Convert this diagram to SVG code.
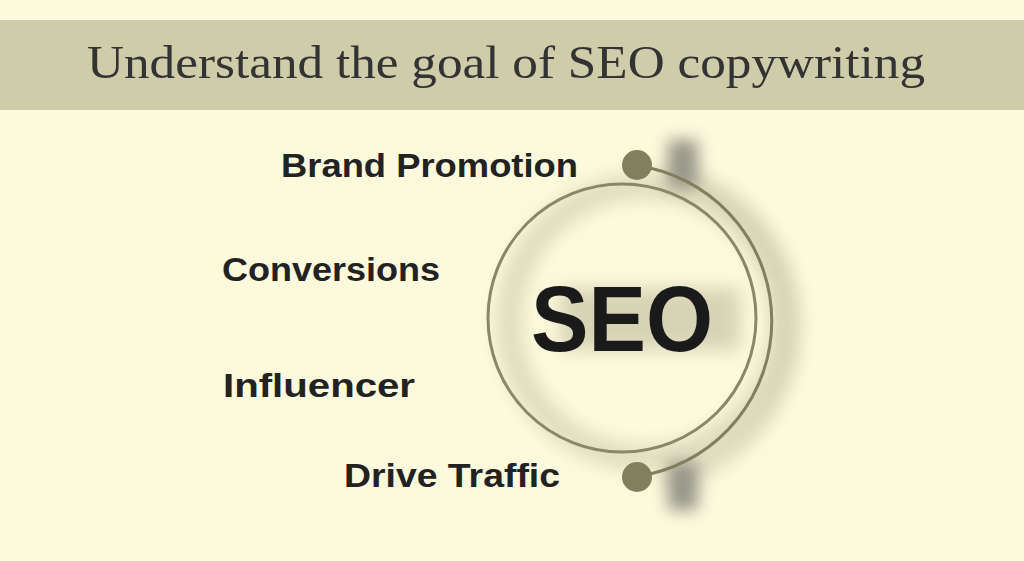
<svg xmlns="http://www.w3.org/2000/svg" width="1024" height="561" viewBox="0 0 1024 561">
<defs>
<filter id="blur" x="-50%" y="-50%" width="200%" height="200%"><feGaussianBlur stdDeviation="9"/></filter>
<filter id="blur2" x="-80%" y="-80%" width="260%" height="260%"><feGaussianBlur stdDeviation="8"/></filter>
<style>
.lbl{font-family:"Liberation Sans",Arial,sans-serif;font-weight:bold;font-size:33px;fill:#222}
.dot{fill:#827f5f}
.ring{fill:none;stroke:#8a8668;stroke-width:3}
</style>
</defs>
<rect width="1024" height="561" fill="#fdf9dc"/>
<rect x="0" y="20" width="1024" height="90" fill="#cfcca9"/>
<text x="87" y="78" font-family="'Liberation Serif','Times New Roman',serif" font-size="46" fill="#333" textLength="838" lengthAdjust="spacingAndGlyphs">Understand the goal of SEO copywriting</text>
<g id="shadows" opacity="0.55">
<circle cx="645" cy="322" r="136" fill="none" stroke="#8a8668" stroke-width="26" filter="url(#blur)" opacity="0.45"/>
<path d="M 665 172 A 157 157 0 0 1 665 480" fill="none" stroke="#8a8668" stroke-width="18" filter="url(#blur)" opacity="0.45"/>
<rect x="668" y="140" width="30" height="48" fill="#444" filter="url(#blur2)"/>
<rect x="668" y="462" width="30" height="48" fill="#444" filter="url(#blur2)"/>
<rect x="560" y="288" width="180" height="62" fill="#8a8668" filter="url(#blur)" opacity="0.6"/>
</g>
<g id="connectors">
<path d="M 650 168 A 157 157 0 0 1 650 474" fill="none" stroke="#827f5f" stroke-width="3"/>
</g>
<g id="seo">
<circle class="ring" cx="622" cy="318" r="134"/>
<text x="531" y="351" font-family="'Liberation Sans',Arial,sans-serif" font-weight="bold" font-size="93" fill="#1a1a1a" textLength="182" lengthAdjust="spacingAndGlyphs">SEO</text>
</g>
<g id="dot-top"><circle class="dot" cx="637" cy="165" r="15"/></g>
<g id="dot-bottom"><circle class="dot" cx="637" cy="477" r="15"/></g>
<g id="brand"><text class="lbl" x="281" y="177" textLength="297" lengthAdjust="spacingAndGlyphs">Brand Promotion</text></g>
<g id="conversions"><text class="lbl" x="222" y="281" textLength="218" lengthAdjust="spacingAndGlyphs">Conversions</text></g>
<g id="influencer"><text class="lbl" x="223" y="397" textLength="192" lengthAdjust="spacingAndGlyphs">Influencer</text></g>
<g id="traffic"><text class="lbl" x="344" y="487" textLength="216" lengthAdjust="spacingAndGlyphs">Drive Traffic</text></g>
</svg>
